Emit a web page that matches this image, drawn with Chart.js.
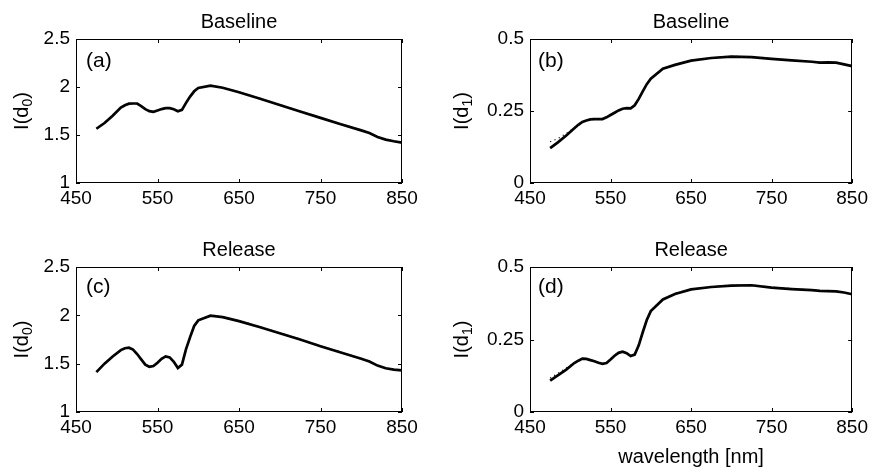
<!DOCTYPE html>
<html>
<head>
<meta charset="utf-8">
<script src="https://cdn.jsdelivr.net/npm/chart.js@4.4.0/dist/chart.umd.min.js"></script>
<style>
  html, body { margin: 0; padding: 0; background: #fff; }
  #fig { position: relative; width: 872px; height: 472px; }
  #fig canvas { position: absolute; }
</style>
</head>
<body>
<div id="fig">
  <canvas id="pa" width="436" height="236" style="left:0;top:0;width:436px;height:236px"></canvas>
  <canvas id="pb" width="436" height="236" style="left:436px;top:0;width:436px;height:236px"></canvas>
  <canvas id="pc" width="436" height="236" style="left:0;top:236px;width:436px;height:236px"></canvas>
  <canvas id="pd" width="436" height="236" style="left:436px;top:236px;width:436px;height:236px"></canvas>
</div>
<script>
// wavelength grid [nm]
const wavelength = [475, 485, 495, 505, 510, 515, 520, 525, 530, 535, 540, 545, 550, 555, 560, 565, 570, 575,
                    580, 585, 590, 595, 600, 615, 630, 650, 675, 700, 725, 750, 775, 800, 810, 820, 830, 840, 850];

// (a) baseline I(d0)
const baseD0 = [1.565, 1.625, 1.70, 1.785, 1.81, 1.826, 1.828, 1.828, 1.80, 1.77, 1.748, 1.742, 1.755, 1.77, 1.78, 1.78, 1.768, 1.748,
                1.762, 1.835, 1.90, 1.955, 1.99, 2.015, 1.992, 1.945, 1.88, 1.812, 1.745, 1.678, 1.612, 1.548, 1.52, 1.48, 1.452, 1.435, 1.42];
const baseD0dot = [1.57, 1.628, 1.70, 1.785, 1.81, 1.826, 1.828, 1.826, 1.80, 1.772, 1.75, 1.745, 1.76, 1.776, 1.786, 1.786, 1.77, 1.75,
                   1.765, 1.835, 1.90, 1.955, 1.99, 2.015, 1.995, 1.95, 1.885, 1.817, 1.75, 1.683, 1.617, 1.553, 1.525, 1.483, 1.455, 1.437, 1.42];
// (b) baseline I(d1)
const baseD1 = [0.121, 0.142, 0.165, 0.19, 0.202, 0.212, 0.217, 0.221, 0.222, 0.222, 0.222, 0.228, 0.236, 0.244, 0.252, 0.258, 0.26, 0.259,
                0.27, 0.292, 0.318, 0.343, 0.362, 0.397, 0.41, 0.425, 0.434, 0.439, 0.437, 0.431, 0.426, 0.421, 0.418, 0.419, 0.418, 0.412, 0.406];
const baseD1dot = [0.143, 0.155, 0.172, 0.192, 0.203, 0.213, 0.218, 0.222, 0.223, 0.223, 0.223, 0.229, 0.237, 0.245, 0.253, 0.259, 0.261, 0.26,
                   0.27, 0.292, 0.318, 0.343, 0.362, 0.398, 0.411, 0.426, 0.435, 0.44, 0.438, 0.432, 0.427, 0.422, 0.419, 0.42, 0.418, 0.412, 0.406];
// (c) release I(d0)
const relD0 = [1.412, 1.50, 1.575, 1.64, 1.66, 1.665, 1.645, 1.60, 1.545, 1.49, 1.468, 1.475, 1.51, 1.55, 1.575, 1.565, 1.52, 1.455,
               1.49, 1.65, 1.775, 1.89, 1.948, 1.997, 1.982, 1.94, 1.88, 1.815, 1.75, 1.68, 1.615, 1.55, 1.522, 1.48, 1.452, 1.438, 1.43];
const relD0dot = [1.416, 1.503, 1.578, 1.642, 1.662, 1.667, 1.647, 1.602, 1.547, 1.492, 1.47, 1.478, 1.513, 1.553, 1.577, 1.567, 1.522, 1.457,
                  1.49, 1.65, 1.775, 1.89, 1.948, 1.998, 1.985, 1.945, 1.885, 1.82, 1.755, 1.685, 1.62, 1.555, 1.527, 1.483, 1.455, 1.44, 1.43];
// (d) release I(d1)
const relD1 = [0.108, 0.127, 0.146, 0.169, 0.177, 0.184, 0.183, 0.179, 0.175, 0.17, 0.166, 0.169, 0.181, 0.194, 0.204, 0.208, 0.203, 0.193,
               0.198, 0.23, 0.275, 0.317, 0.348, 0.388, 0.407, 0.423, 0.431, 0.436, 0.437, 0.429, 0.424, 0.42, 0.418, 0.417, 0.416, 0.412, 0.406];
const relD1dot = [0.117, 0.134, 0.152, 0.171, 0.178, 0.185, 0.184, 0.18, 0.176, 0.171, 0.167, 0.17, 0.182, 0.195, 0.205, 0.209, 0.204, 0.194,
                  0.199, 0.23, 0.275, 0.318, 0.35, 0.39, 0.409, 0.424, 0.432, 0.437, 0.438, 0.431, 0.426, 0.421, 0.419, 0.418, 0.416, 0.412, 0.406];

const xTicks = [450, 550, 650, 750, 850];
const yTicksD0 = [1, 1.5, 2, 2.5];
const yTicksD1 = [0, 0.25, 0.5];

const FONT = '"Liberation Sans", Arial, Helvetica, sans-serif';

function pts(vals) {
  return wavelength.map((w, i) => ({ x: w, y: vals[i] }));
}

// box, inward ticks, title, panel letter and y label with subscript
function framePlugin(p) {
  return {
    id: 'frame',
    afterDraw(chart) {
      const ctx = chart.ctx;
      const a = chart.chartArea;
      const xs = chart.scales.x, ys = chart.scales.y;
      ctx.save();
      ctx.strokeStyle = '#000';
      ctx.lineWidth = 1;
      ctx.strokeRect(Math.round(a.left) + 0.5, Math.round(a.top) + 0.5,
                     Math.round(a.right - a.left) - 1, Math.round(a.bottom - a.top) - 1);
      ctx.beginPath();
      xs.ticks.forEach(t => {
        const px = Math.round(xs.getPixelForValue(t.value)) + 0.5;
        ctx.moveTo(px, a.bottom); ctx.lineTo(px, a.bottom - 4);
        ctx.moveTo(px, a.top); ctx.lineTo(px, a.top + 4);
      });
      ys.ticks.forEach(t => {
        const py = Math.round(ys.getPixelForValue(t.value)) + 0.5;
        ctx.moveTo(a.left, py); ctx.lineTo(a.left + 4, py);
        ctx.moveTo(a.right, py); ctx.lineTo(a.right - 4, py);
      });
      ctx.stroke();

      ctx.fillStyle = '#000';
      ctx.textAlign = 'center';
      ctx.textBaseline = 'middle';
      ctx.font = '20px ' + FONT;
      ctx.fillText(p.title, (a.left + a.right) / 2, a.top - 17);

      ctx.textAlign = 'left';
      ctx.font = '21px ' + FONT;
      ctx.fillText(p.letter, a.left + p.letterDx, a.top + p.letterDy);

      if (p.xlabel) {
        ctx.textAlign = 'center';
        ctx.font = '20px ' + FONT;
        ctx.fillText(p.xlabel, (a.left + a.right) / 2, 221);
      }

      // y label I(d_n)
      ctx.translate(p.ylabelX, (a.top + a.bottom) / 2);
      ctx.rotate(-Math.PI / 2);
      ctx.textAlign = 'left';
      ctx.font = '20px ' + FONT;
      const w1 = ctx.measureText('I(d').width;
      const w3 = ctx.measureText(')').width;
      ctx.font = '14px ' + FONT;
      const w2 = ctx.measureText(p.sub).width;
      const x0 = -(w1 + w2 + w3) / 2;
      ctx.font = '20px ' + FONT;
      ctx.fillText('I(d', x0, 0);
      ctx.font = '14px ' + FONT;
      ctx.fillText(p.sub, x0 + w1, 6);
      ctx.font = '20px ' + FONT;
      ctx.fillText(')', x0 + w1 + w2, 0);
      ctx.restore();
    }
  };
}

function makePanel(id, p) {
  new Chart(document.getElementById(id), {
    type: 'line',
    data: {
      datasets: [
        { data: pts(p.dotted), borderColor: '#111', borderWidth: 1.2, borderDash: [1.2, 3.5], pointRadius: 0, tension: 0 },
        { data: pts(p.solid), borderColor: '#000', borderWidth: 2.7, pointRadius: 0, tension: 0 },
      ],
    },
    options: {
      responsive: false, animation: false, events: [],
      layout: { padding: { top: p.top, right: p.right, left: 0, bottom: 0 } },
      plugins: { legend: { display: false }, tooltip: { enabled: false } },
      scales: {
        x: {
          type: 'linear', min: 450, max: 850,
          afterBuildTicks: s => { s.ticks = xTicks.map(v => ({ value: v })); },
          afterFit: s => { s.height = p.xh; },
          grid: { display: false, drawTicks: false }, border: { display: false },
          ticks: { color: '#000', padding: 4, maxRotation: 0, autoSkip: false,
                   font: { family: FONT, size: 19 }, callback: v => String(v) },
        },
        y: {
          type: 'linear', min: p.ymin, max: p.ymax,
          afterBuildTicks: s => { s.ticks = p.yTicks.map(v => ({ value: v })); },
          afterFit: s => { s.width = p.yw; },
          grid: { display: false, drawTicks: false }, border: { display: false },
          ticks: { color: '#000', padding: 6, autoSkip: false,
                   font: { family: FONT, size: 19 }, callback: v => String(v) },
        },
      },
    },
    plugins: [framePlugin(p)],
  });
}

makePanel('pa', { solid: baseD0, dotted: baseD0dot, ymin: 1, ymax: 2.5, yTicks: yTicksD0,
  top: 39, right: 34, yw: 76, xh: 53, title: 'Baseline', letter: '(a)', letterDx: 10, letterDy: 22,
  sub: '0', ylabelX: 22 });
makePanel('pb', { solid: baseD1, dotted: baseD1dot, ymin: 0, ymax: 0.5, yTicks: yTicksD1,
  top: 39, right: 17, yw: 94, xh: 53, title: 'Baseline', letter: '(b)', letterDx: 8, letterDy: 22,
  sub: '1', ylabelX: 26 });
makePanel('pc', { solid: relD0, dotted: relD0dot, ymin: 1, ymax: 2.5, yTicks: yTicksD0,
  top: 31, right: 34, yw: 76, xh: 60, title: 'Release', letter: '(c)', letterDx: 10, letterDy: 20,
  sub: '0', ylabelX: 22 });
makePanel('pd', { solid: relD1, dotted: relD1dot, ymin: 0, ymax: 0.5, yTicks: yTicksD1,
  top: 31, right: 17, yw: 94, xh: 60, title: 'Release', letter: '(d)', letterDx: 8, letterDy: 20,
  sub: '1', ylabelX: 26, xlabel: 'wavelength [nm]' });
</script>
</body>
</html>
